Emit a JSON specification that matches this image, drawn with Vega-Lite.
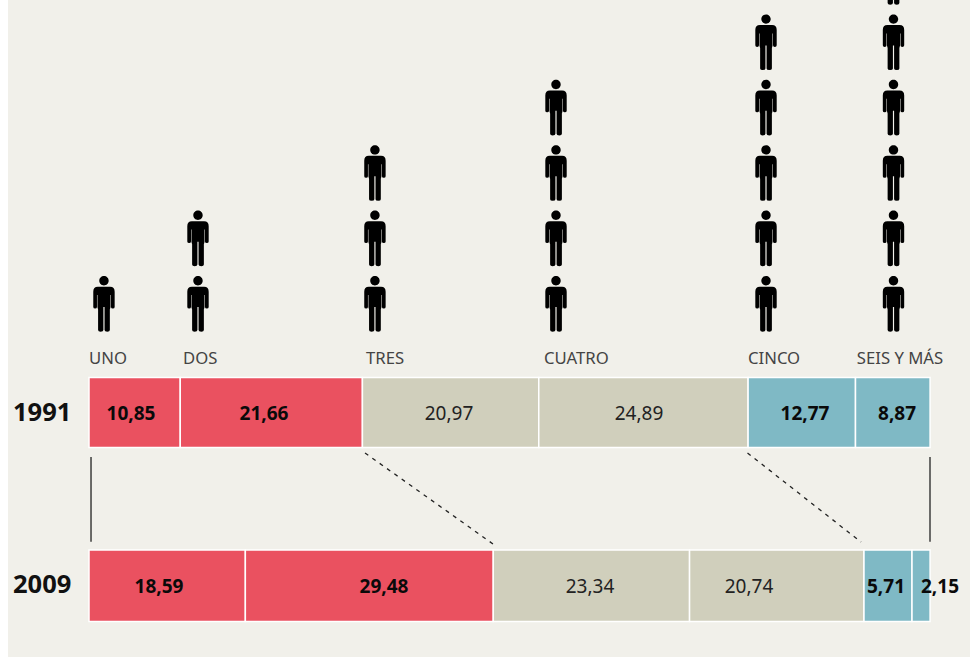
{
"$schema":"https://vega.github.io/schema/vega-lite/v6.json",
"width":962,"height":657,
"autosize":{"type":"none"},
"padding":{"left":8,"top":0,"right":0,"bottom":0},
"background":"#ffffff",
"view":{"fill":"#f1f0ea","stroke":null},
"datasets":{
"segmentos":[
{"anio":"1991","categoria":"UNO","tipo":"bajo","inicio":0,"fin":10.85,"valor":"10,85","xt":4.99,"yb":-0.124,"yt":-1.194,"yc":-0.69},
{"anio":"1991","categoria":"DOS","tipo":"bajo","inicio":10.85,"fin":32.51,"valor":"21,66","xt":20.81,"yb":-0.124,"yt":-1.194,"yc":-0.69},
{"anio":"1991","categoria":"TRES","tipo":"medio","inicio":32.51,"fin":53.48,"valor":"20,97","xt":42.81,"yb":-0.124,"yt":-1.194,"yc":-0.69},
{"anio":"1991","categoria":"CUATRO","tipo":"medio","inicio":53.48,"fin":78.37,"valor":"24,89","xt":65.4,"yb":-0.124,"yt":-1.194,"yc":-0.69},
{"anio":"1991","categoria":"CINCO","tipo":"alto","inicio":78.37,"fin":91.14,"valor":"12,77","xt":85.14,"yb":-0.124,"yt":-1.194,"yc":-0.69},
{"anio":"1991","categoria":"SEIS Y MÁS","tipo":"alto","inicio":91.14,"fin":100.01,"valor":"8,87","xt":96.08,"yb":-0.124,"yt":-1.194,"yc":-0.69},
{"anio":"2009","categoria":"UNO","tipo":"bajo","inicio":0,"fin":18.59,"valor":"18,59","xt":8.32,"yb":-2.761,"yt":-3.855,"yc":-3.33},
{"anio":"2009","categoria":"DOS","tipo":"bajo","inicio":18.59,"fin":48.07,"valor":"29,48","xt":35.08,"yb":-2.761,"yt":-3.855,"yc":-3.33},
{"anio":"2009","categoria":"TRES","tipo":"medio","inicio":48.07,"fin":71.41,"valor":"23,34","xt":59.57,"yb":-2.761,"yt":-3.855,"yc":-3.33},
{"anio":"2009","categoria":"CUATRO","tipo":"medio","inicio":71.41,"fin":92.15,"valor":"20,74","xt":78.48,"yb":-2.761,"yt":-3.855,"yc":-3.33},
{"anio":"2009","categoria":"CINCO","tipo":"alto","inicio":92.15,"fin":97.86,"valor":"5,71","xt":94.77,"yb":-2.761,"yt":-3.855,"yc":-3.33},
{"anio":"2009","categoria":"SEIS Y MÁS","tipo":"alto","inicio":97.86,"fin":100.01,"valor":"2,15","xt":101.19,"yb":-2.761,"yt":-3.855,"yc":-3.33}
],
"personas":[
{"categoria":"UNO","x":1.78,"nivel":1},
{"categoria":"DOS","x":12.96,"nivel":1},{"categoria":"DOS","x":12.96,"nivel":2},
{"categoria":"TRES","x":34,"nivel":1},{"categoria":"TRES","x":34,"nivel":2},{"categoria":"TRES","x":34,"nivel":3},
{"categoria":"CUATRO","x":55.53,"nivel":1},{"categoria":"CUATRO","x":55.53,"nivel":2},{"categoria":"CUATRO","x":55.53,"nivel":3},{"categoria":"CUATRO","x":55.53,"nivel":4},
{"categoria":"CINCO","x":80.5,"nivel":1},{"categoria":"CINCO","x":80.5,"nivel":2},{"categoria":"CINCO","x":80.5,"nivel":3},{"categoria":"CINCO","x":80.5,"nivel":4},{"categoria":"CINCO","x":80.5,"nivel":5},
{"categoria":"SEIS Y MÁS","x":95.66,"nivel":1},{"categoria":"SEIS Y MÁS","x":95.66,"nivel":2},{"categoria":"SEIS Y MÁS","x":95.66,"nivel":3},{"categoria":"SEIS Y MÁS","x":95.66,"nivel":4},{"categoria":"SEIS Y MÁS","x":95.66,"nivel":5},{"categoria":"SEIS Y MÁS","x":95.66,"nivel":6}
],
"etiquetas":[
{"texto":"UNO","x":0,"y":0.16},
{"texto":"DOS","x":11.18,"y":0.16},
{"texto":"TRES","x":32.94,"y":0.16},
{"texto":"CUATRO","x":54.1,"y":0.16},
{"texto":"CINCO","x":78.36,"y":0.16},
{"texto":"SEIS Y MÁS","x":91.3,"y":0.16}
],
"anios":[
{"texto":"1991","x":-9.04,"y":-0.66},
{"texto":"2009","x":-9.04,"y":-3.3}
],
"punteadas":[
{"x":32.82,"x2":48.04,"y":-1.278,"y2":-2.67},
{"x":78.3,"x2":91.8,"y":-1.278,"y2":-2.64}
],
"solidas":[
{"x":0.24,"x2":0.24,"y":-1.339,"y2":-2.635},
{"x":100,"x2":100,"y":-1.339,"y2":-2.635}
]
},
"layer":[
{"data":{"name":"segmentos"},"mark":{"type":"rect","stroke":"#ffffff","strokeWidth":1.5},
 "encoding":{
 "x":{"field":"inicio","type":"quantitative","scale":{"domain":[-9.631,104.756],"nice":false,"zero":false},"axis":null},
 "x2":{"field":"fin"},
 "y":{"field":"yb","type":"quantitative","scale":{"domain":[-4.398,5.648],"nice":false,"zero":false},"axis":null},
 "y2":{"field":"yt"},
 "color":{"field":"tipo","type":"nominal","scale":{"domain":["bajo","medio","alto"],"range":["#ea5160","#d0cfbc","#7fb9c5"]},"legend":null}
 }},
{"data":{"name":"punteadas"},"mark":{"type":"rule","color":"#222222","strokeWidth":1.3,"strokeDash":[4,5]},
 "encoding":{"x":{"field":"x","type":"quantitative"},"x2":{"field":"x2"},"y":{"field":"y","type":"quantitative"},"y2":{"field":"y2"}}},
{"data":{"name":"solidas"},"mark":{"type":"rule","color":"#222222","strokeWidth":1.3},
 "encoding":{"x":{"field":"x","type":"quantitative"},"x2":{"field":"x2"},"y":{"field":"y","type":"quantitative"},"y2":{"field":"y2"}}},
{"data":{"name":"personas"},"mark":{"type":"point","filled":true,"color":"#000000","opacity":1,"size":3136,"strokeWidth":0,
 "shape":"M-0.168,-0.832A0.168,0.168 0 1,1 0.168,-0.832A0.168,0.168 0 1,1 -0.168,-0.832Z M-0.22,-0.618 L0.22,-0.618 Q0.382,-0.618 0.382,-0.44 L0.382,0.107 Q0.382,0.161 0.314,0.161 Q0.25,0.161 0.25,0.107 L0.25,-0.321 L0.232,-0.321 L0.232,0.12 L0.21,0.2 L0.21,0.93 Q0.21,0.989 0.118,0.989 Q0.021,0.989 0.021,0.93 L0.021,0.11 L-0.021,0.11 L-0.021,0.93 Q-0.021,0.989 -0.118,0.989 Q-0.21,0.989 -0.21,0.93 L-0.21,0.2 L-0.232,0.12 L-0.232,-0.321 L-0.25,-0.321 L-0.25,0.107 Q-0.25,0.161 -0.314,0.161 Q-0.382,0.161 -0.382,0.107 L-0.382,-0.44 Q-0.382,-0.618 -0.22,-0.618 Z"},
 "encoding":{"x":{"field":"x","type":"quantitative"},"y":{"field":"nivel","type":"quantitative"}}},
{"data":{"name":"etiquetas"},"mark":{"type":"text","align":"left","baseline":"middle","font":"Noto Sans","fontSize":16.7,"color":"#444444"},
 "encoding":{"x":{"field":"x","type":"quantitative"},"y":{"field":"y","type":"quantitative"},"text":{"field":"texto"}}},
{"data":{"name":"anios"},"mark":{"type":"text","align":"left","baseline":"middle","font":"Noto Sans","fontWeight":"bold","fontSize":25.5,"color":"#111111"},
 "encoding":{"x":{"field":"x","type":"quantitative"},"y":{"field":"y","type":"quantitative"},"text":{"field":"texto"}}},
{"data":{"name":"segmentos"},"transform":[{"filter":"datum.tipo !== 'medio'"}],"mark":{"type":"text","align":"center","baseline":"middle","font":"Noto Sans","fontWeight":"bold","fontSize":19,"color":"#0a0a0a"},
 "encoding":{"x":{"field":"xt","type":"quantitative"},"y":{"field":"yc","type":"quantitative"},"text":{"field":"valor"}}},
{"data":{"name":"segmentos"},"transform":[{"filter":"datum.tipo === 'medio'"}],"mark":{"type":"text","align":"center","baseline":"middle","font":"Noto Sans","fontSize":19,"color":"#222222"},
 "encoding":{"x":{"field":"xt","type":"quantitative"},"y":{"field":"yc","type":"quantitative"},"text":{"field":"valor"}}}
]
}
